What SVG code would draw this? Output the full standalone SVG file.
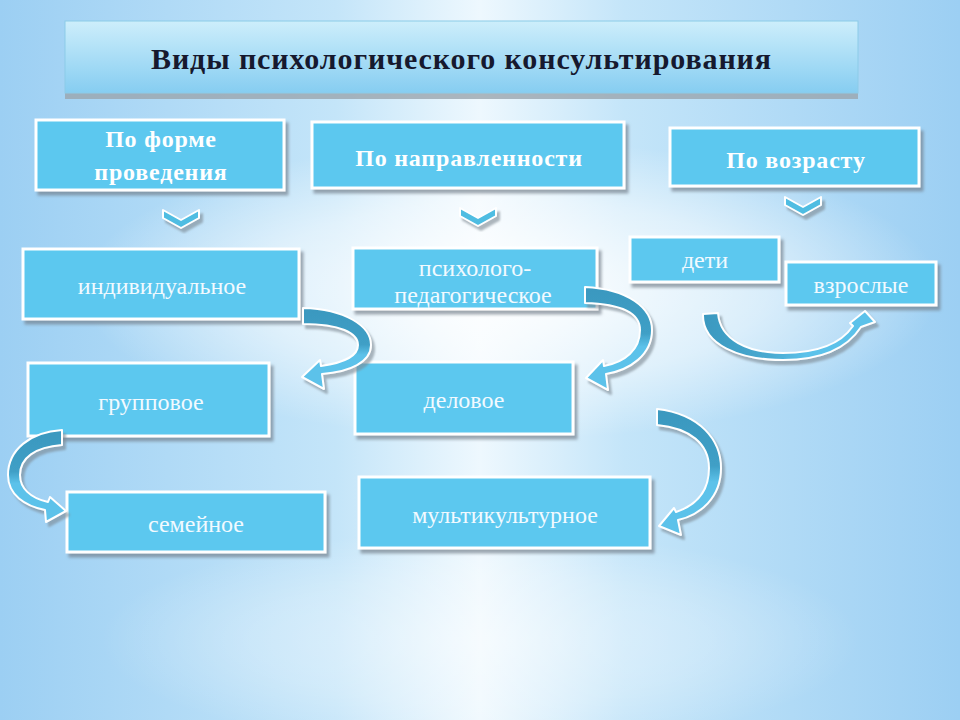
<svg xmlns="http://www.w3.org/2000/svg" width="960" height="720" viewBox="0 0 960 720">
<defs>
<linearGradient id="bgH" x1="0" y1="0" x2="1" y2="0">
<stop offset="0" stop-color="#9ccff3"/>
<stop offset="0.35" stop-color="#c4e5f9"/>
<stop offset="0.5" stop-color="#eef8fe"/>
<stop offset="0.65" stop-color="#c4e5f9"/>
<stop offset="1" stop-color="#9ccff3"/>
</linearGradient>
<radialGradient id="glow" cx="0.5" cy="0.5" r="0.5">
<stop offset="0" stop-color="#ffffff" stop-opacity="0.95"/>
<stop offset="0.6" stop-color="#ffffff" stop-opacity="0.5"/>
<stop offset="1" stop-color="#ffffff" stop-opacity="0"/>
</radialGradient>
<linearGradient id="titleG" x1="0" y1="0" x2="0" y2="1">
<stop offset="0" stop-color="#cdeefb"/>
<stop offset="1" stop-color="#86cdf1"/>
</linearGradient>
<linearGradient id="arrV" x1="0" y1="0" x2="0" y2="1">
<stop offset="0" stop-color="#3a98bf"/>
<stop offset="0.45" stop-color="#3f9fc6"/>
<stop offset="0.58" stop-color="#5cc2ea"/>
<stop offset="1" stop-color="#5cc2ea"/>
</linearGradient>
<linearGradient id="arrH" x1="0" y1="0" x2="1" y2="0">
<stop offset="0" stop-color="#3a98bf"/>
<stop offset="0.4" stop-color="#4aabd2"/>
<stop offset="0.6" stop-color="#5cc2ea"/>
<stop offset="1" stop-color="#5cc2ea"/>
</linearGradient>
<filter id="sh" x="-10%" y="-10%" width="130%" height="140%">
<feDropShadow dx="3" dy="4" stdDeviation="1.5" flood-color="#6f7c86" flood-opacity="0.65"/>
</filter>
<filter id="ash" x="-20%" y="-20%" width="150%" height="150%">
<feDropShadow dx="3" dy="4" stdDeviation="1.2" flood-color="#7a8690" flood-opacity="0.6"/>
</filter>
</defs>
<style>
.box{fill:#5bc8ef;stroke:#ffffff;stroke-width:3;filter:url(#sh)}
.hd{font-family:"Liberation Serif","Times New Roman",serif;font-weight:bold;font-size:24px;letter-spacing:0.8px;fill:#ffffff;text-anchor:middle}
.tx{font-family:"Liberation Serif","Times New Roman",serif;font-size:24px;fill:#f2faff;text-anchor:middle}
.ttl{font-family:"Liberation Serif","Times New Roman",serif;font-weight:bold;font-size:30px;fill:#16192e;text-anchor:middle}
.arr{stroke:#ffffff;stroke-width:2;stroke-linejoin:round;filter:url(#ash)}
.chev{fill:#4fbde2;stroke:#ffffff;stroke-width:2;stroke-linejoin:round;filter:url(#ash)}
</style>

<rect x="0" y="0" width="960" height="720" fill="url(#bgH)"/>
<ellipse cx="510" cy="290" rx="430" ry="150" fill="url(#glow)"/>
<ellipse cx="480" cy="640" rx="380" ry="110" fill="url(#glow)" opacity="0.5"/>

<g id="title">
<rect x="65" y="21" width="793" height="75" fill="#9aa5ae" opacity="0.8" transform="translate(0,3)"/>
<rect x="65" y="21" width="793" height="72" fill="url(#titleG)" stroke="#8ccbe8" stroke-width="1"/>
<text class="ttl" x="461" y="69" textLength="620" lengthAdjust="spacing">Виды психологического консультирования</text>
</g>

<g id="h-forma">
<rect class="box" x="36" y="120" width="248" height="70"/>
<text class="hd" x="161" y="147">По форме</text>
<text class="hd" x="161" y="180">проведения</text>
</g>
<g id="h-napr">
<rect class="box" x="312" y="122" width="312" height="66"/>
<text class="hd" x="469" y="166">По направленности</text>
</g>
<g id="h-vozrast">
<rect class="box" x="670" y="128" width="249" height="58"/>
<text class="hd" x="796" y="168">По возрасту</text>
</g>

<g id="n-individ">
<rect class="box" x="23" y="249" width="276" height="70"/>
<text class="tx" x="162" y="294">индивидуальное</text>
</g>
<g id="n-psiho">
<rect class="box" x="353" y="248" width="244" height="61"/>
<text class="tx" x="475" y="276">психолого-</text>
<text class="tx" x="473" y="303">педагогическое</text>
</g>
<g id="n-deti">
<rect class="box" x="630" y="237" width="149" height="45"/>
<text class="tx" x="705" y="268">дети</text>
</g>
<g id="n-vzrosl">
<rect class="box" x="786" y="262" width="150" height="43"/>
<text class="tx" x="861" y="293">взрослые</text>
</g>
<g id="n-grupp">
<rect class="box" x="28" y="363" width="241" height="73"/>
<text class="tx" x="151" y="410">групповое</text>
</g>
<g id="n-delov">
<rect class="box" x="355" y="362" width="218" height="72"/>
<text class="tx" x="464" y="408">деловое</text>
</g>
<g id="n-semei">
<rect class="box" x="67" y="492" width="258" height="60"/>
<text class="tx" x="196" y="532">семейное</text>
</g>
<g id="n-multi">
<rect class="box" x="359" y="477" width="291" height="71"/>
<text class="tx" x="505" y="523">мультикультурное</text>
</g>

<g id="connectors">
<path class="chev" d="M163,210 L181,220 L199,210 L199,218 L181,228 L163,218 Z"/>
<path class="chev" d="M460,208 L478,218 L496,208 L496,216 L478,226 L460,216 Z"/>
<path class="chev" d="M785,197 L803,207 L821,197 L821,205 L803,215 L785,205 Z"/>

<path class="arr" fill="url(#arrV)" d="M303,308 C345,309 371,326 371,345 C371,362 350,372 322,374 L324,389 L302,377 L320,360 L321,366 C343,363 358,356 358,345 C358,333 340,324 303,324 Z"/>
<path class="arr" fill="url(#arrV)" d="M585,287 C628,289 652,308 652,330 C652,355 630,370 606,374 L608,390 L586,378 L603,360 L604,366 C625,362 640,350 640,330 C640,313 622,304 585,303 Z"/>
<path class="arr" fill="url(#arrV)" d="M657,409 C700,414 721,440 721,468 C721,498 700,515 678,520 L681,535 L659,526 L674,508 L676,512 C697,505 709,490 709,468 C709,444 690,428 657,425 Z"/>
<path class="arr" fill="url(#arrV)" d="M62,430 C30,432 8,450 8,475 C8,495 25,506 45,510 L46,522 L66,511 L50,497 L48,502 C30,498 20,488 20,475 C20,458 35,447 62,445 Z"/>
<path class="arr" fill="url(#arrH)" d="M703,314 C702,345 740,360 783,360 C818,360 846,350 861,327 L875,322 L865,311 L850,323 L853,326 C840,345 815,353 783,353 C748,353 720,340 718,313 Z"/>
</g>
</svg>
